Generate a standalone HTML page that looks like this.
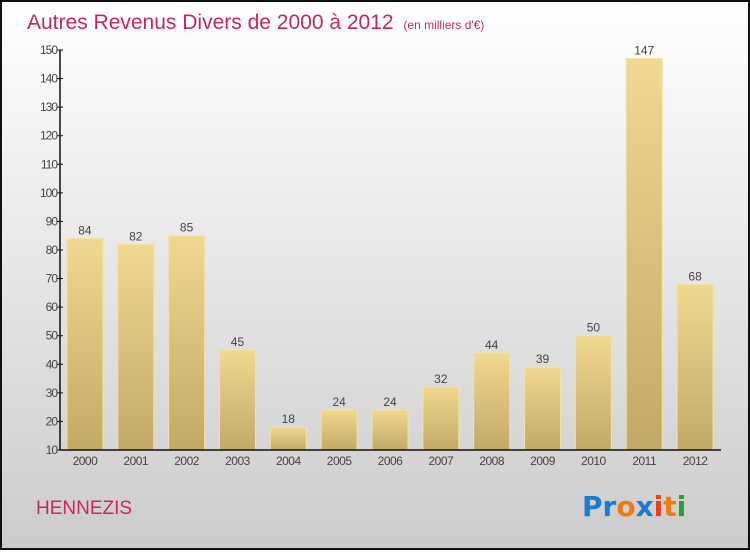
<!DOCTYPE html>
<html><head><meta charset="utf-8"><style>
body{margin:0;width:750px;height:550px;overflow:hidden;font-family:"Liberation Sans",sans-serif}
</style></head><body>
<svg width="750" height="550" viewBox="0 0 750 550">
<defs>
<linearGradient id="bg" x1="0" y1="0" x2="0" y2="1"><stop offset="0" stop-color="#ffffff"/><stop offset="1" stop-color="#cccccc"/></linearGradient>
<linearGradient id="bar" x1="0" y1="0" x2="0" y2="1"><stop offset="0" stop-color="#f1d890"/><stop offset="1" stop-color="#c2aa66"/></linearGradient>
</defs>
<rect x="1" y="1" width="748" height="548" fill="url(#bg)" stroke="#111" stroke-width="2"/>
<text x="27" y="29" font-size="21" fill="#c8285c">Autres Revenus Divers de 2000 à 2012 <tspan font-size="12" dx="4">(en milliers d'€)</tspan></text>
<g id="plot"></g>
<text x="36" y="514" font-size="19" fill="#c8285c">HENNEZIS</text>
<text x="582" y="516" font-size="28" font-family="'DejaVu Sans',sans-serif" font-weight="bold"><tspan fill="#1a7ad4">Pr</tspan><tspan fill="#ee7a10">o</tspan><tspan fill="#1a7ad4">x</tspan><tspan fill="#ee4010">i</tspan><tspan fill="#ee7a10">t</tspan><tspan fill="#2a9a3a">i</tspan></text>
</svg>
<script>
const categories=["2000","2001","2002","2003","2004","2005","2006","2007","2008","2009","2010","2011","2012"];
const values=[84,82,85,45,18,24,24,32,44,39,50,147,68];
const yTicks=[10,20,30,40,50,60,70,80,90,100,110,120,130,140,150];
const ns="http://www.w3.org/2000/svg";
const g=document.getElementById('plot');
const x0=60,x1=721,yTop=50,yBot=450,ymin=10,ymax=150;
const y=v=>yBot-(v-ymin)/(ymax-ymin)*(yBot-yTop);
const step=(x1-x0)/categories.length;
const xc=i=>x0+step*(i+0.5)-0.5;
function mk(t,a){const e=document.createElementNS(ns,t);for(const k in a)e.setAttribute(k,a[k]);g.appendChild(e);return e;}
yTicks.forEach(v=>{
 const t=mk('line',{x1:x0-3,x2:x0+3,y1:y(v),y2:y(v),stroke:'#111'});
 
 
 const l=mk('text',{x:x0-3,y:y(v)+4,'font-size':12,'text-anchor':'end',fill:'#444','letter-spacing':'-1'});
 l.textContent=v;
 
 
});
categories.forEach((c,i)=>{
 const bw=36,cx=xc(i);
 const r=mk('rect',{x:cx-bw/2,y:y(values[i]),width:bw,height:yBot-y(values[i]),fill:'url(#bar)',stroke:'#f3e2a6','stroke-width':1});
 
 
 const vl=mk('text',{x:cx,y:y(values[i])-4,'font-size':12,'text-anchor':'middle',fill:'#444'});
 vl.textContent=values[i];
 
 
 const xl=mk('text',{x:cx,y:yBot+15,'font-size':12,'text-anchor':'middle',fill:'#444','letter-spacing':'-0.5'});
 xl.textContent=c;
 
 
});
const ya=mk('line',{x1:x0,x2:x0,y1:yTop,y2:yBot,stroke:'#111','stroke-width':1.5});


const xa=mk('line',{x1:x0,x2:x1,y1:yBot,y2:yBot,stroke:'#111','stroke-width':1.5});


</script>
</body></html>
